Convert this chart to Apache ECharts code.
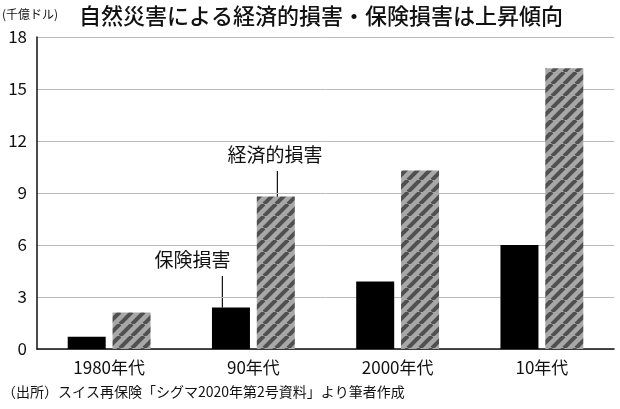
<!DOCTYPE html>
<html><head><meta charset="utf-8">
<script src="https://cdn.jsdelivr.net/npm/echarts@6/dist/echarts.min.js"></script>
<style>html,body{margin:0;padding:0;background:#fff}#c{width:620px;height:409px}</style>
</head><body><div id="c"></div>
<script>
const categories = ['1980年代','90年代','2000年代','10年代'];
const insuredLoss = [0.7, 2.4, 3.9, 6.0];
const economicLoss = [2.1, 8.8, 10.3, 16.2];
const yTicks = [0,3,6,9,12,15,18];
const F = '"Noto Sans CJK JP", sans-serif';

const pc = document.createElement('canvas');
pc.width = 12; pc.height = 12;
const g = pc.getContext('2d');
g.fillStyle = '#a8a8a8'; g.fillRect(0,0,12,12);
g.strokeStyle = '#505050'; g.lineWidth = 4;
for (let k=-12;k<=24;k+=12){ g.beginPath(); g.moveTo(k,12); g.lineTo(k+12,0); g.stroke(); }
const pattern = { image: pc, repeat: 'repeat' };

const chart = echarts.init(document.getElementById('c'));
const baseGraphic = [
  {type:'text', left:2, top:8, style:{text:'(千億ドル)',fontFamily:F,fontSize:12,fill:'#111'}},
  {type:'text', left:2, top:385, style:{text:'（出所）スイス再保険「シグマ2020年第2号資料」より筆者作成',fontFamily:F,fontSize:14,fill:'#111'}}
];
chart.setOption({
  animation:false,
  title:{ text:'自然災害による経済的損害・保険損害は上昇傾向', left:74, top:0,
    textStyle:{fontFamily:F,fontSize:22,fontWeight:500,color:'#111'} },
  grid:{ left:37, right:6, top:37, bottom:60 },
  xAxis:{ type:'category', data:categories,
    axisLine:{lineStyle:{color:'#111',width:1.5}}, axisTick:{show:false},
    axisLabel:{fontFamily:F,fontSize:17,color:'#111',margin:10} },
  yAxis:{ type:'value', min:0, max:18, interval:3,
    axisLine:{show:true,lineStyle:{color:'#111',width:1.5}}, axisTick:{show:false},
    splitLine:{lineStyle:{color:'#bbb'}},
    axisLabel:{fontFamily:F,fontSize:17,color:'#111',margin:10,
      formatter:v=>yTicks.includes(v)?String(v):''} },
  series:[
    {type:'bar', data:insuredLoss, barWidth:38, barGap:'18%', itemStyle:{color:'#000'}},
    {type:'bar', data:economicLoss, barWidth:38, itemStyle:{color:pattern}}
  ],
  graphic: baseGraphic
});
const pE = chart.convertToPixel({seriesIndex:1},[1,economicLoss[1]]);
const pI = chart.convertToPixel({seriesIndex:0},[1,insuredLoss[1]]);
const xE = pE[0] + 24, xI = pI[0] - 31;
chart.setOption({graphic: baseGraphic.concat([
  {type:'text', x:xE-50, y:145, style:{text:'経済的損害',fontFamily:F,fontSize:19,fill:'#111'}},
  {type:'line', shape:{x1:xE,y1:171,x2:xE,y2:pE[1]+10}, style:{stroke:'#111',lineWidth:1.2}},
  {type:'text', x:xI-68, y:250, style:{text:'保険損害',fontFamily:F,fontSize:19,fill:'#111'}},
  {type:'line', shape:{x1:xI,y1:276,x2:xI,y2:pI[1]}, style:{stroke:'#111',lineWidth:1.2}}
])});
</script></body></html>
